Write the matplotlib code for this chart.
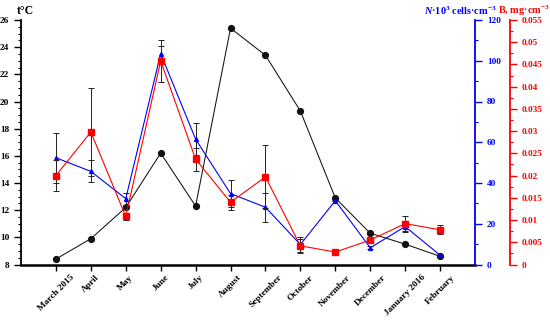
import numpy as np
import matplotlib
matplotlib.use('Agg')
import matplotlib.pyplot as plt
from matplotlib.ticker import MultipleLocator

plt.rcParams['font.family'] = 'Liberation Serif'
plt.rcParams['font.weight'] = 'bold'
plt.rcParams['mathtext.fontset'] = 'custom'
plt.rcParams['mathtext.rm'] = 'Liberation Serif:bold'
plt.rcParams['mathtext.it'] = 'Liberation Serif:italic:bold'
plt.rcParams['mathtext.bf'] = 'Liberation Serif:bold'

months = ['March 2015', 'April', 'May', 'June', 'July', 'August', 'September',
          'October', 'November', 'December', 'January 2016', 'February']

# water temperature, t°C
temp = [8.4, 9.9, 12.2, 16.2, 12.3, 25.4, 23.4, 19.3, 12.9, 10.3, 9.5, 8.6]

# cell number, N*10^3 cells/cm3
cells = [52.4, 45.7, 32.3, 103.5, 61.5, 34.8, 28.1, 9.8, 31.3, 8.2, 18.6, 4.6]
cells_err = [12.2, 5.4, 3.0, 3.7, 7.8, 6.5, 7.0, 3.5, 0.0, 0.8, 2.0, 0.0]

# biomass, B mg/cm3
biomass = [0.0200, 0.0298, 0.0108, 0.0458, 0.0237, 0.0140, 0.0197,
           0.0042, 0.0028, 0.0055, 0.0092, 0.0078]
biomass_err = [0.0034, 0.0098, 0.0007, 0.0048, 0.0026, 0.0017, 0.0071,
               0.0016, 0.0004, 0.0005, 0.0018, 0.0010]

x = np.arange(len(months))

fig = plt.figure(figsize=(5.5, 3.23), dpi=100)
ax = fig.add_axes([21/550, 1-264.5/323, (475-21)/550, (264.5-20)/323])

ax.plot(x, temp, color='#111111', lw=0.75, marker='o', ms=4.2, zorder=3)
ax.set_xlim(-1, 12)
ax.set_ylim(8, 26)
ax.yaxis.set_major_locator(MultipleLocator(2))
ax.yaxis.set_minor_locator(MultipleLocator(0.5))
ax.set_xticks(x)
ax.set_xticklabels(months, rotation=45, fontsize=6.7, fontweight='bold')
ax.tick_params(axis='y', labelsize=6.7, length=5, width=1.0)
ax.tick_params(axis='y', which='minor', length=2.5, width=0.8)
ax.tick_params(axis='x', length=4.5, width=1.0, pad=2)
ax.spines['top'].set_visible(False)
ax.spines['right'].set_visible(False)
ax.spines['bottom'].set_linewidth(1.8)
ax.spines['left'].set_linewidth(1.3)
for t in ax.get_yticklabels():
    t.set_fontweight('bold')

ax2 = ax.twinx()
ax2.errorbar(x, cells, yerr=cells_err, color='blue', ecolor='#222222', elinewidth=0.7,
             capsize=2, capthick=0.7, lw=0.8, marker='^', ms=2.8, zorder=3)
ax2.set_ylim(0, 120)
ax2.yaxis.set_major_locator(MultipleLocator(20))
ax2.yaxis.set_minor_locator(MultipleLocator(10))
ax2.tick_params(axis='y', colors='blue', labelsize=6.7, length=5, width=1.0)
ax2.tick_params(axis='y', which='minor', colors='blue', length=2.5, width=0.8)
ax2.spines['right'].set_color('blue')
ax2.spines['right'].set_linewidth(1.3)
for s in ['top', 'left', 'bottom']:
    ax2.spines[s].set_visible(False)

ax3 = ax.twinx()
ax3.spines['right'].set_position(('outward', 25))
ax3.errorbar(x, biomass, yerr=biomass_err, color='red', ecolor='#222222', elinewidth=0.7,
             capsize=2, capthick=0.7, lw=0.8, marker='s', ms=4.3, zorder=3)
ax3.set_ylim(0, 0.055)
ax3.set_yticks(np.arange(0, 0.0551, 0.005))
ax3.set_yticklabels(['0', '0.005', '0.01', '0.015', '0.02', '0.025', '0.03',
                     '0.035', '0.04', '0.045', '0.05', '0.055'])
ax3.yaxis.set_minor_locator(MultipleLocator(0.0025))
ax3.tick_params(axis='y', colors='red', labelsize=6.7, length=5, width=1.0)
ax3.tick_params(axis='y', which='minor', colors='red', length=2.5, width=0.8)
ax3.spines['right'].set_color('red')
ax3.spines['right'].set_linewidth(1.3)
for s in ['top', 'left', 'bottom']:
    ax3.spines[s].set_visible(False)

fig.text(17/550, 1-10.5/323, 't°C', fontsize=8.5, fontweight='bold', va='center', ha='left')
fig.text(496/550, 1-11/323, r'$\mathit{N}$·10$^{3}$ cells·cm$^{-3}$', color='blue',
         fontsize=7.4, fontweight='bold', va='center', ha='right')
fig.text(498/550, 1-11/323, r'B, mg·cm$^{-3}$', color='red',
         fontsize=7.4, fontweight='bold', va='center', ha='left')

fig.savefig('out.png', dpi=100)
